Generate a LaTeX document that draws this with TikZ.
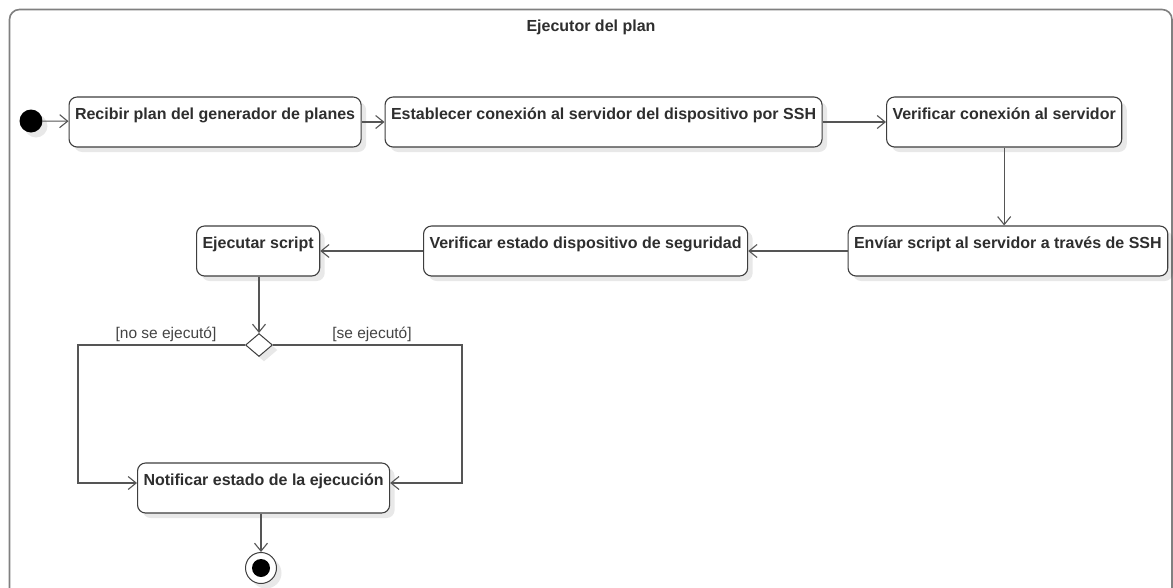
\documentclass[tikz,border=0pt]{standalone}
\usepackage{fontspec}
\setmainfont{Liberation Sans}
\usetikzlibrary{arrows.meta,shapes.geometric,shadows}
\definecolor{boxline}{HTML}{3E3E3E}
\definecolor{edgegrey}{HTML}{555555}
\definecolor{framegrey}{HTML}{808080}
\definecolor{txt}{HTML}{2E2E2E}
\definecolor{txtlight}{HTML}{444444}
\begin{document}
\begin{tikzpicture}[x=1pt,y=-1pt,
  soft shadow/.style={drop shadow={shadow xshift=5pt, shadow yshift=-5pt, opacity=0.09, fill=black}},
  action/.style={draw=boxline, line width=1.1pt, rounded corners=8pt, fill=white,
    font=\bfseries\fontsize{16}{18}\selectfont, text=txt,
    inner xsep=6pt, inner ysep=0pt, text height=22pt, text depth=28pt,
    anchor=west, soft shadow},
  flow/.style={draw=edgegrey, line width=1.1pt, -{Straight Barb[length=8pt,width=13pt]}},
  guard/.style={font=\fontsize{15.5}{18}\selectfont, text=txtlight, inner sep=0pt, anchor=base}]
\useasboundingbox (0,0) rectangle (1173,587);
\clip (0,0) rectangle (1173,587);
\fill[white] (0,0) rectangle (1173,587);

% swimlane frame and title
\draw[framegrey, line width=1.6pt, rounded corners=10pt] (9.5,9.5) rectangle (1172,620);
\node[font=\bfseries\fontsize{16}{18}\selectfont, text=txt, anchor=base] (title) at (591,31) {Ejecutor del plan};

% initial node
\node[circle, fill=black, minimum size=23pt, inner sep=0pt, soft shadow] (start) at (31,121) {};

% actions
\node[action] (recv)     at (68.5,122) {Recibir plan del generador de planes};
\node[action] (ssh)      at (384.5,122) {Establecer conexión al servidor del dispositivo por SSH};
\node[action] (check)    at (886,122) {Verificar conexión al servidor};
\node[action] (send)     at (847.5,251) {Envíar script al servidor a través de SSH};
\node[action] (secstate) at (423,251) {Verificar estado dispositivo de seguridad};
\node[action] (run)      at (196,251) {Ejecutar script};
\node[action] (notify)   at (137,488) {Notificar estado de la ejecución};

% decision
\node[diamond, draw=boxline, fill=white, line width=1pt, minimum width=27pt, minimum height=23pt,
  inner sep=0pt, soft shadow] (dec) at (259,345) {};
\coordinate (lbend) at (78,345);
\coordinate (rbend) at (462,345);

% final node
\node[circle, draw=boxline, fill=white, line width=1pt, minimum size=31pt, inner sep=0pt, soft shadow] (end) at (261,568) {};
\node[circle, fill=black, minimum size=18pt, inner sep=0pt] (endcore) at (end) {};

% control flow
\draw[flow] (start) -- (recv);
\draw[flow] (recv) -- (ssh);
\draw[flow] (ssh) -- (check);
\draw[flow] (check.south) -- (check.south |- send.north);
\draw[flow] (send) -- (secstate);
\draw[flow] (secstate) -- (run);
\draw[flow] (dec.north |- run.south) -- (dec.north);
\draw[flow] (dec.west) -- (lbend) |- ([yshift=5pt]notify.west);
\draw[flow] (dec.east) -- (rbend) |- ([yshift=5pt]notify.east);
\draw[flow] (end.north |- notify.south) -- (end.north);

% guards
\node[guard] (gno)  at (166,338) {[no se ejecutó]};
\node[guard] (gyes) at (372,338) {[se ejecutó]};
\end{tikzpicture}
\end{document}
